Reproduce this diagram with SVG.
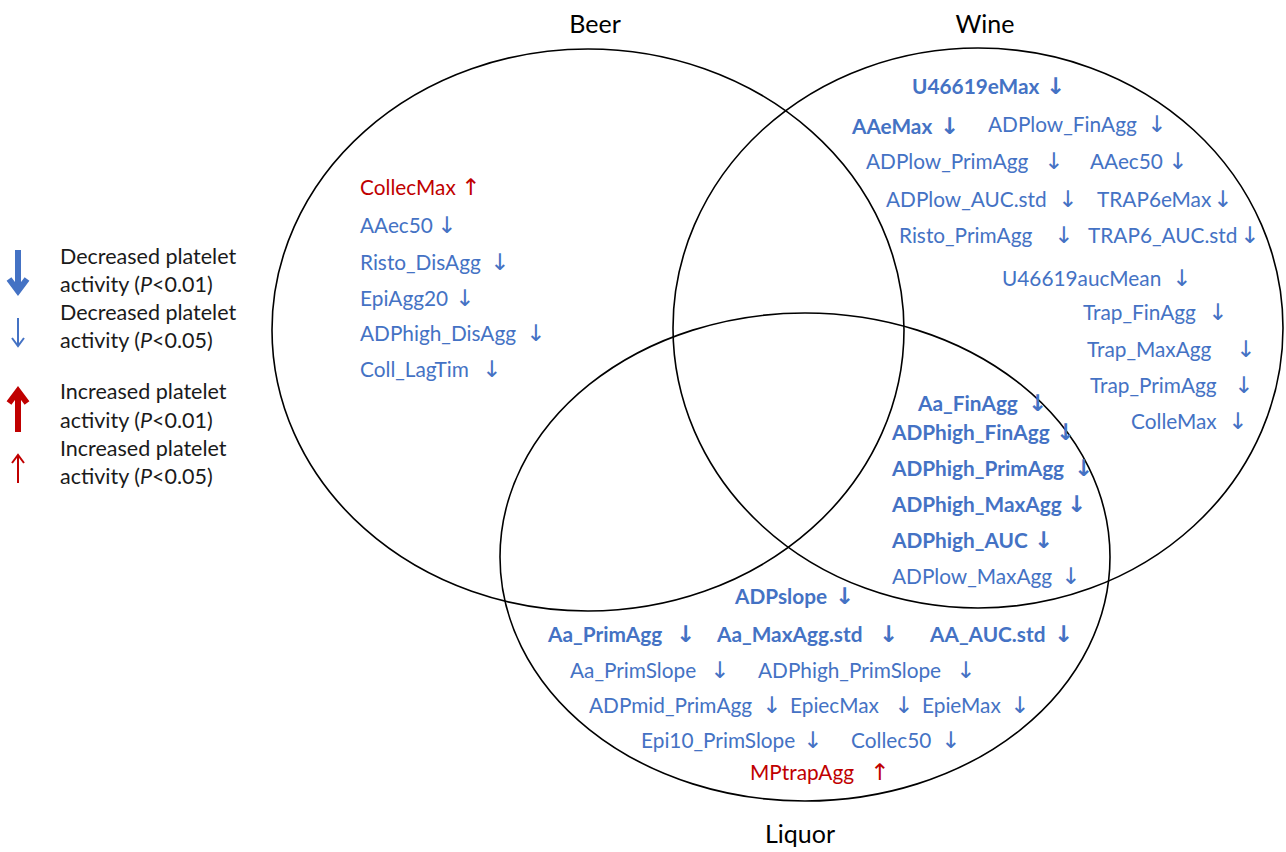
<svg xmlns="http://www.w3.org/2000/svg" width="1286" height="852" viewBox="0 0 1286 852">
<style>
text{font-family:Lato,"Liberation Sans",sans-serif;}
.t{font-size:20.8px;fill:#4472C4;}
.b{font-weight:bold;}
.r{fill:#C00000;}
.a{font-family:"DejaVu Sans",sans-serif;font-size:23px;}
.lab{font-size:25px;fill:#000;}
.lg{font-size:21.5px;fill:#1a1a1a;}
.set{fill:none;stroke:#000;stroke-width:1.6;}
.la{fill:none;stroke-linecap:butt;stroke-linejoin:miter;}
</style>
<g id="sets">
<ellipse class="set" cx="588" cy="330" rx="316" ry="281"/>
<ellipse class="set" cx="978" cy="328" rx="305" ry="280"/>
<ellipse class="set" cx="805" cy="557" rx="305" ry="244"/>
</g>
<g id="set-labels">
<text class="lab" x="595" y="33" text-anchor="middle">Beer</text>
<text class="lab" x="985" y="33" text-anchor="middle">Wine</text>
<text class="lab" x="800" y="843" text-anchor="middle">Liquor</text>
</g>
<g id="legend">
<g class="la" stroke="#4472C4">
<path d="M18,250 V289" stroke-width="6"/>
<path d="M9,279 L18,291 L27,279" stroke-width="6"/>
<path d="M18,318 V345" stroke-width="2"/>
<path d="M12,338 L18,346 L24,338" stroke-width="2"/>
</g>
<g class="la" stroke="#C00000">
<path d="M18,432 V393" stroke-width="6"/>
<path d="M9,403 L18,391 L27,403" stroke-width="6"/>
<path d="M18,483 V456" stroke-width="2"/>
<path d="M12,463 L18,455 L24,463" stroke-width="2"/>
</g>
<text class="lg" x="60" y="264">Decreased platelet</text>
<text class="lg" x="60" y="292">activity (<tspan font-style="italic">P</tspan>&lt;0.01)</text>
<text class="lg" x="60" y="320">Decreased platelet</text>
<text class="lg" x="60" y="348">activity (<tspan font-style="italic">P</tspan>&lt;0.05)</text>
<text class="lg" x="60" y="399">Increased platelet</text>
<text class="lg" x="60" y="428">activity (<tspan font-style="italic">P</tspan>&lt;0.01)</text>
<text class="lg" x="60" y="456">Increased platelet</text>
<text class="lg" x="60" y="484">activity (<tspan font-style="italic">P</tspan>&lt;0.05)</text>
</g>
<g id="beer">
<text class="t r" x="360" y="195">CollecMax<tspan class="a" x="461">↑</tspan></text>
<text class="t" x="360" y="233">AAec50<tspan class="a" x="437">↓</tspan></text>
<text class="t" x="360" y="270">Risto_DisAgg<tspan class="a" x="490">↓</tspan></text>
<text class="t" x="360" y="306">EpiAgg20<tspan class="a" x="455">↓</tspan></text>
<text class="t" x="360" y="341">ADPhigh_DisAgg<tspan class="a" x="526">↓</tspan></text>
<text class="t" x="360" y="377">Coll_LagTim<tspan class="a" x="482">↓</tspan></text>
</g>
<g id="wine">
<text class="t b" x="912" y="94">U46619eMax<tspan class="a" x="1046">↓</tspan></text>
<text class="t b" x="852" y="134">AAeMax<tspan class="a" x="940">↓</tspan></text>
<text class="t" x="988" y="132">ADPlow_FinAgg<tspan class="a" x="1147">↓</tspan></text>
<text class="t" x="866" y="169">ADPlow_PrimAgg<tspan class="a" x="1044">↓</tspan></text>
<text class="t" x="1090" y="169">AAec50<tspan class="a" x="1168">↓</tspan></text>
<text class="t" x="886" y="207">ADPlow_AUC.std<tspan class="a" x="1058">↓</tspan></text>
<text class="t" x="1097" y="207">TRAP6eMax<tspan class="a" x="1213">↓</tspan></text>
<text class="t" x="899" y="243">Risto_PrimAgg<tspan class="a" x="1054">↓</tspan></text>
<text class="t" x="1088" y="243">TRAP6_AUC.std<tspan class="a" x="1240">↓</tspan></text>
<text class="t" x="1002" y="286">U46619aucMean<tspan class="a" x="1172">↓</tspan></text>
<text class="t" x="1083" y="320">Trap_FinAgg<tspan class="a" x="1208">↓</tspan></text>
<text class="t" x="1087" y="357">Trap_MaxAgg<tspan class="a" x="1236">↓</tspan></text>
<text class="t" x="1090" y="393">Trap_PrimAgg<tspan class="a" x="1234">↓</tspan></text>
<text class="t" x="1131" y="429">ColleMax<tspan class="a" x="1228">↓</tspan></text>
</g>
<g id="wine-liquor">
<text class="t b" x="918" y="411">Aa_FinAgg<tspan class="a" x="1028">↓</tspan></text>
<text class="t b" x="892" y="440">ADPhigh_FinAgg<tspan class="a" x="1056">↓</tspan></text>
<text class="t b" x="892" y="476">ADPhigh_PrimAgg<tspan class="a" x="1074">↓</tspan></text>
<text class="t b" x="892" y="512">ADPhigh_MaxAgg<tspan class="a" x="1067">↓</tspan></text>
<text class="t b" x="892" y="548">ADPhigh_AUC<tspan class="a" x="1034">↓</tspan></text>
<text class="t" x="892" y="584">ADPlow_MaxAgg<tspan class="a" x="1061">↓</tspan></text>
</g>
<g id="liquor">
<text class="t b" x="735" y="604">ADPslope<tspan class="a" x="835">↓</tspan></text>
<text class="t b" x="548" y="642">Aa_PrimAgg<tspan class="a" x="676">↓</tspan></text>
<text class="t b" x="717" y="642">Aa_MaxAgg.std<tspan class="a" x="879">↓</tspan></text>
<text class="t b" x="930" y="642">AA_AUC.std<tspan class="a" x="1054">↓</tspan></text>
<text class="t" x="570" y="678">Aa_PrimSlope<tspan class="a" x="710">↓</tspan></text>
<text class="t" x="758" y="678">ADPhigh_PrimSlope<tspan class="a" x="956">↓</tspan></text>
<text class="t" x="589" y="713">ADPmid_PrimAgg<tspan class="a" x="762">↓</tspan></text>
<text class="t" x="790" y="713">EpiecMax<tspan class="a" x="894">↓</tspan></text>
<text class="t" x="922" y="713">EpieMax<tspan class="a" x="1010">↓</tspan></text>
<text class="t" x="641" y="748">Epi10_PrimSlope<tspan class="a" x="803">↓</tspan></text>
<text class="t" x="851" y="748">Collec50<tspan class="a" x="941">↓</tspan></text>
<text class="t r" x="750" y="780">MPtrapAgg<tspan class="a" x="870">↑</tspan></text>
</g>
</svg>
